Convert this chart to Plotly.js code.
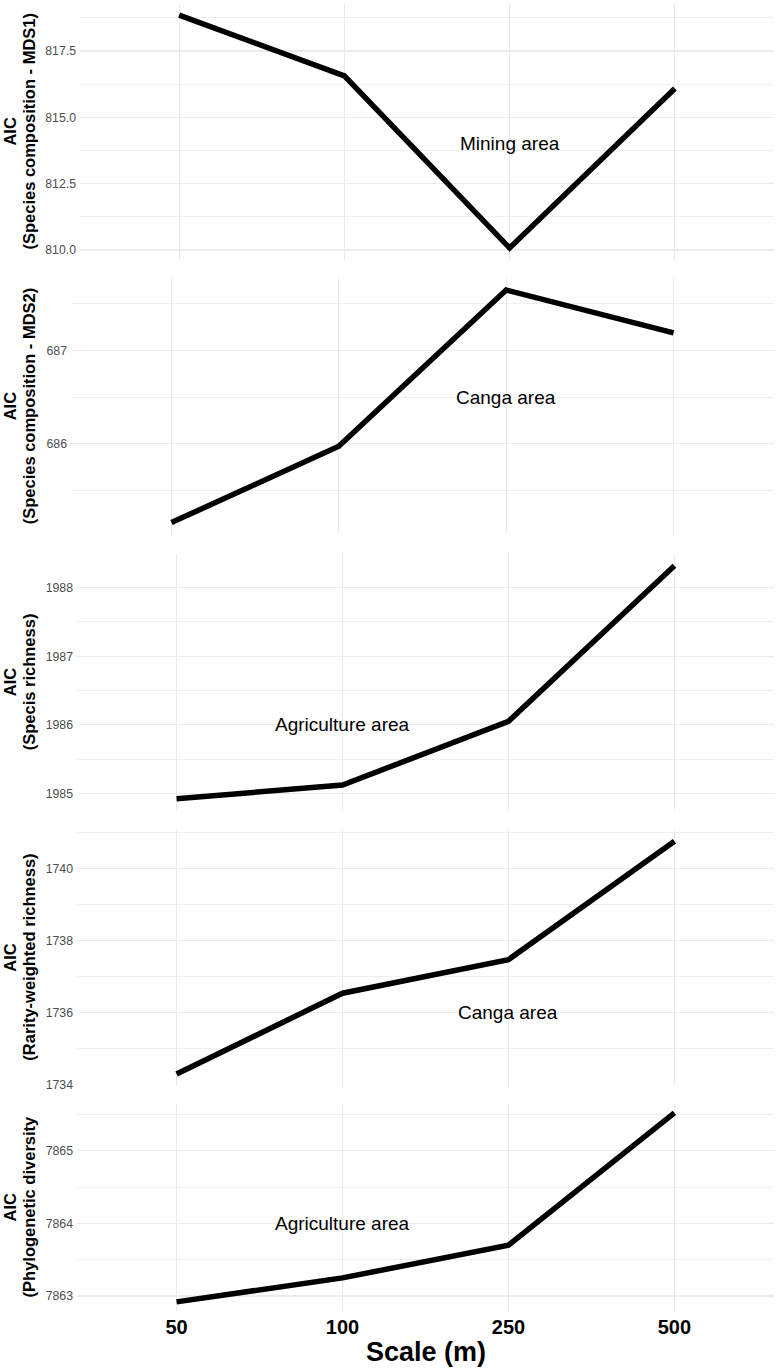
<!DOCTYPE html>
<html>
<head>
<meta charset="utf-8">
<script src="https://cdn.plot.ly/plotly-3.0.1.min.js"></script>
<style>
  body { margin: 0; background: #fff; }
  #plot { width: 776px; height: 1370px; }
</style>
</head>
<body>
<div id="plot"></div>
<script>
// scale categories (m)
var scales = ['50', '100', '250', '500'];

// AIC values
var aicMds1 = [818.85, 816.56, 810.08, 816.09];
var aicMds2 = [685.15, 685.97, 687.65, 687.19];
var aicRichness = [1984.92, 1985.12, 1986.05, 1988.32];
var aicRarity = [1734.30, 1736.54, 1737.47, 1740.75];
var aicPhylo = [7862.92, 7863.25, 7863.70, 7865.52];

var yLabels = [
  '(Species composition - MDS1)',
  '(Species composition - MDS2)',
  '(Specis richness)',
  '(Rarity-weighted richness)',
  '(Phylogenetic diversity'
];

var areaNames = ['Mining area', 'Canga area', 'Agriculture area', 'Canga area', 'Agriculture area'];
var areaScale = ['250', '250', '100', '250', '100'];
var areaAic = [814, 686.5, 1986, 1736, 7864];

var yStep = [2.5, 1, 1, 2, 1];
var yFormat = ['.1f', 'd', 'd', 'd', 'd'];

var series = [aicMds1, aicMds2, aicRichness, aicRarity, aicPhylo];

// page geometry in pixels
var W = 776, H = 1370;
var panelTop = [3.5, 278.4, 554.1, 829.6, 1103.5];
var panelBottom = [259.6, 534.2, 810.4, 1085.7, 1311.3];
var panelLeft = [80, 71, 77, 77, 77];
var panelRight = 774;

var FONT = '"Liberation Sans", Arial, Helvetica, sans-serif';
var GRID = '#EBEBEB';

function padRange(v) {
  var lo = Math.min.apply(null, v), hi = Math.max.apply(null, v);
  var d = (hi - lo) * 0.05;
  return [lo - d, hi + d];
}

var data = [];
var layout = {
  width: W,
  height: H,
  margin: {l: 0, r: 0, t: 0, b: 0},
  paper_bgcolor: '#fff',
  plot_bgcolor: '#fff',
  showlegend: false,
  font: {family: FONT, color: '#000'},
  annotations: []
};

for (var i = 0; i < series.length; i++) {
  var n = i === 0 ? '' : String(i + 1);
  var last = i === series.length - 1;

  data.push({
    x: scales,
    y: series[i],
    xaxis: 'x' + n,
    yaxis: 'y' + n,
    mode: 'lines',
    type: 'scatter',
    line: {color: '#000', width: 5.5},
    hoverinfo: 'skip'
  });

  var yTop = 1 - panelTop[i] / H;
  var yBot = 1 - panelBottom[i] / H;

  layout['xaxis' + n] = {
    type: 'category',
    domain: [panelLeft[i] / W, panelRight / W],
    anchor: 'y' + n,
    range: [-0.6, 3.6],
    showgrid: true,
    gridcolor: GRID,
    gridwidth: 1.2,
    zeroline: false,
    showline: false,
    ticks: '',
    showticklabels: last,
    ticklabelstandoff: 2,
    tickfont: {family: FONT, size: 20, color: '#000', weight: 'bold'}
  };

  layout['yaxis' + n] = {
    domain: [yBot, yTop],
    anchor: 'x' + n,
    range: padRange(series[i]),
    tick0: 0,
    dtick: yStep[i],
    tickformat: yFormat[i],
    showgrid: true,
    gridcolor: GRID,
    gridwidth: 1.2,
    minor: {dtick: yStep[i] / 2, showgrid: true, gridcolor: GRID, gridwidth: 0.8},
    zeroline: false,
    showline: false,
    ticks: '',
    ticklabelstandoff: 3,
    tickfont: {family: FONT, size: 12.3, color: '#4D4D4D'}
  };

  var mid = (yTop + yBot) / 2;
  layout.annotations.push({
    text: 'AIC', xref: 'paper', yref: 'paper', x: 10 / W, y: mid,
    xanchor: 'center', yanchor: 'middle', textangle: -90, showarrow: false,
    font: {family: FONT, size: 16.5, color: '#000', weight: 'bold'}
  });
  layout.annotations.push({
    text: yLabels[i], xref: 'paper', yref: 'paper', x: 29 / W, y: mid,
    xanchor: 'center', yanchor: 'middle', textangle: -90, showarrow: false,
    font: {family: FONT, size: 16.5, color: '#000', weight: 'bold'}
  });
  // category axes take the category index for annotation positions
  layout.annotations.push({
    text: areaNames[i], xref: 'x' + n, yref: 'y' + n,
    x: scales.indexOf(areaScale[i]), y: areaAic[i],
    xanchor: 'center', yanchor: 'middle', showarrow: false,
    font: {family: FONT, size: 19, color: '#000'}
  });
}

layout.annotations.push({
  text: 'Scale (m)', xref: 'paper', yref: 'paper',
  x: (77 + panelRight) / 2 / W, y: 1 - 1352 / H,
  xanchor: 'center', yanchor: 'middle', showarrow: false,
  font: {family: FONT, size: 27, color: '#000', weight: 'bold'}
});

Plotly.newPlot('plot', data, layout, {displayModeBar: false, staticPlot: true});
</script>
</body>
</html>
